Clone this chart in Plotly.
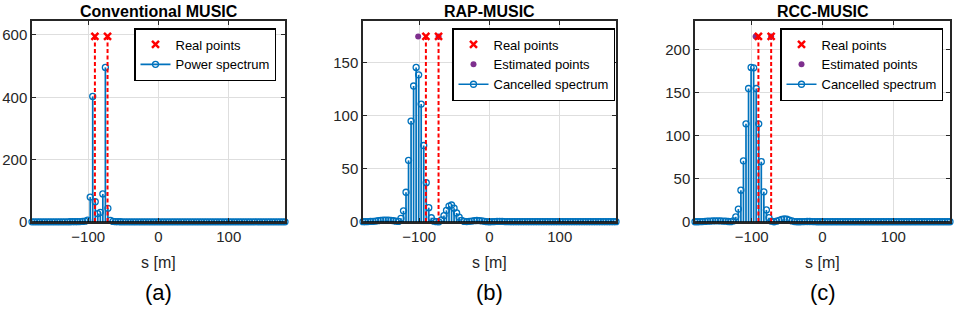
import plotly.graph_objects as go

# ---------------- data ----------------
s_grid = [-180.0, -176.4, -172.8, -169.2, -165.6, -162.0, -158.4, -154.8, -151.2, -147.6,
          -144.0, -140.4, -136.8, -133.2, -129.6, -126.0, -122.4, -118.8, -115.2, -111.6,
          -108.0, -104.4, -100.8, -97.2, -93.6, -90.0, -86.4, -82.8, -79.2, -75.6,
          -72.0, -68.4, -64.8, -61.2, -57.6, -54.0, -50.4, -46.8, -43.2, -39.6,
          -36.0, -32.4, -28.8, -25.2, -21.6, -18.0, -14.4, -10.8, -7.2, -3.6,
          0.0, 3.6, 7.2, 10.8, 14.4, 18.0, 21.6, 25.2, 28.8, 32.4,
          36.0, 39.6, 43.2, 46.8, 50.4, 54.0, 57.6, 61.2, 64.8, 68.4,
          72.0, 75.6, 79.2, 82.8, 86.4, 90.0, 93.6, 97.2, 100.8, 104.4,
          108.0, 111.6, 115.2, 118.8, 122.4, 126.0, 129.6, 133.2, 136.8, 140.4,
          144.0, 147.6, 151.2, 154.8, 158.4, 162.0, 165.6, 169.2, 172.8, 176.4,
          180.0]

spec_a = [0.5, 0.5, 0.5, 0.5, 0.5, 0.5, 0.5, 0.5, 0.5, 0.5,
          0.6, 0.6, 0.6, 0.7, 0.7, 0.8, 0.9, 1.0, 1.2, 1.5,
          1.8, 2.5, 6.0, 80.0, 403.0, 65.0, 27.0, 31.0, 90.0, 496.0,
          44.0, 5.0, 2.0, 1.2, 1.0, 0.8, 0.7, 0.6, 0.6, 0.5,
          0.5, 0.5, 0.5, 0.5, 0.5, 0.5, 0.5, 0.5, 0.5, 0.5,
          0.5, 0.5, 0.5, 0.5, 0.5, 0.5, 0.5, 0.5, 0.5, 0.5,
          0.5, 0.5, 0.5, 0.5, 0.5, 0.5, 0.5, 0.5, 0.5, 0.5,
          0.5, 0.5, 0.5, 0.5, 0.5, 0.5, 0.5, 0.5, 0.5, 0.5,
          0.5, 0.5, 0.5, 0.5, 0.5, 0.5, 0.5, 0.5, 0.5, 0.5,
          0.5, 0.5, 0.5, 0.5, 0.5, 0.5, 0.5, 0.5, 0.5, 0.5,
          0.5]

spec_b = [0.3, 0.3, 0.4, 0.5, 0.6, 0.9, 1.2, 1.5, 1.7, 1.8,
          1.7, 1.5, 1.2, 0.8, 0.5, 3.5, 10.5, 28.0, 58.0, 95.0,
          128.0, 145.5, 138.5, 111.0, 72.0, 37.0, 13.5, 4.0, 0.8, 0.3,
          0.2, 2.0, 6.0, 11.0, 15.0, 16.0, 13.0, 8.5, 4.5, 1.5,
          0.5, 0.4, 0.6, 0.9, 1.2, 1.4, 1.3, 1.0, 0.6, 0.3,
          0.2, 0.3, 0.4, 0.5, 0.5, 0.5, 0.4, 0.3, 0.3, 0.3,
          0.3, 0.3, 0.3, 0.3, 0.3, 0.3, 0.3, 0.3, 0.3, 0.3,
          0.3, 0.3, 0.3, 0.3, 0.3, 0.3, 0.3, 0.3, 0.3, 0.3,
          0.3, 0.3, 0.3, 0.3, 0.3, 0.3, 0.3, 0.3, 0.3, 0.3,
          0.3, 0.3, 0.3, 0.3, 0.3, 0.3, 0.3, 0.3, 0.3, 0.3,
          0.3]

spec_c = [0.3, 0.3, 0.4, 0.5, 0.7, 0.9, 1.1, 1.3, 1.4, 1.4,
          1.3, 1.1, 0.9, 0.6, 0.4, 1.2, 6.0, 15.0, 37.0, 71.0,
          114.0, 155.0, 179.5, 179.0, 155.0, 114.0, 70.0, 35.0, 14.0, 5.0,
          1.0, 0.3, 1.0, 2.0, 3.0, 3.5, 3.2, 2.2, 1.2, 0.5,
          0.3, 0.3, 0.4, 0.5, 0.6, 0.6, 0.5, 0.4, 0.3, 0.3,
          0.3, 0.3, 0.3, 0.3, 0.3, 0.3, 0.3, 0.3, 0.3, 0.3,
          0.3, 0.3, 0.3, 0.3, 0.3, 0.3, 0.3, 0.3, 0.3, 0.3,
          0.3, 0.3, 0.3, 0.3, 0.3, 0.3, 0.3, 0.3, 0.3, 0.3,
          0.3, 0.3, 0.3, 0.3, 0.3, 0.3, 0.3, 0.3, 0.3, 0.3,
          0.3, 0.3, 0.3, 0.3, 0.3, 0.3, 0.3, 0.3, 0.3, 0.3,
          0.3]

real_pts = [-90.5, -72.5]
est_b = [-101.5, -72.5]
est_c = [-94.4, -72.5]

titles = ["Conventional MUSIC", "RAP-MUSIC", "RCC-MUSIC"]
spec_names = ["Power spectrum", "Cancelled spectrum", "Cancelled spectrum"]
panel_tags = ["(a)", "(b)", "(c)"]
yticks_a = [0, 200, 400, 600]
yticks_b = [0, 50, 100, 150]
yticks_c = [0, 50, 100, 150, 200]
xticks = [-100, 0, 100]
x_label = "s [m]"

# ---------------- style / layout ----------------
W, H = 955, 309
FONT = "Liberation Sans, Arial, Helvetica, sans-serif"
BLUE = "#0072BD"
RED = "#FF0000"
PURPLE = "#7E2F8E"
AX = "#262626"

px_x = [(32, 285), (363, 616), (695, 950)]
px_y = (21, 222)
legend_px = [(276, 28), (615, 28), (943, 28)]

panels = [
    (spec_a, None, yticks_a),
    (spec_b, est_b, yticks_b),
    (spec_c, est_c, yticks_c),
]

fig = go.Figure()
layout = {}
shapes = []
annotations = []

for i, (spec, est, yt) in enumerate(panels):
    sfx = "" if i == 0 else str(i + 1)
    xa, ya = "x" + sfx, "y" + sfx
    lg = "legend" + sfx
    ymax = max(spec)
    top = 1.3 * ymax
    mark_h = 1.2 * ymax

    # stems
    sx, sy = [], []
    for xv, yv in zip(s_grid, spec):
        sx += [xv, xv, None]
        sy += [0, yv, None]
    fig.add_trace(go.Scatter(x=sx, y=sy, mode="lines", line=dict(color=BLUE, width=1.7),
                             xaxis=xa, yaxis=ya, showlegend=False, hoverinfo="skip"))
    fig.add_trace(go.Scatter(x=s_grid, y=spec, mode="markers",
                             marker=dict(symbol="circle-open", size=6, color=BLUE,
                                         line=dict(width=1.3, color=BLUE)),
                             xaxis=xa, yaxis=ya, showlegend=False, cliponaxis=False))
    # dashed red lines at real points
    dx, dy = [], []
    for rp in real_pts:
        dx += [rp, rp, None]
        dy += [0, mark_h, None]
    fig.add_trace(go.Scatter(x=dx, y=dy, mode="lines",
                             line=dict(color=RED, width=2, dash="4px,2.5px"),
                             xaxis=xa, yaxis=ya, showlegend=False, hoverinfo="skip"))
    # estimated points
    if est is not None:
        fig.add_trace(go.Scatter(x=est, y=[mark_h] * len(est), mode="markers",
                                 marker=dict(symbol="circle", size=6, color=PURPLE),
                                 name="Estimated points", xaxis=xa, yaxis=ya,
                                 legend=lg, legendrank=2, cliponaxis=False))
    # real points
    fig.add_trace(go.Scatter(x=real_pts, y=[mark_h] * len(real_pts), mode="markers",
                             marker=dict(symbol="x-thin", size=7, color=RED,
                                         line=dict(width=2.5, color=RED)),
                             name="Real points", xaxis=xa, yaxis=ya,
                             legend=lg, legendrank=1, cliponaxis=False))
    # legend entry for spectrum
    fig.add_trace(go.Scatter(x=[None], y=[None], mode="lines+markers",
                             line=dict(color=BLUE, width=1.7),
                             marker=dict(symbol="circle-open", size=6, color=BLUE,
                                         line=dict(width=1.3, color=BLUE)),
                             name=spec_names[i], xaxis=xa, yaxis=ya,
                             legend=lg, legendrank=3))

    x0, x1 = px_x[i]
    xdom = [x0 / W, x1 / W]
    ydom = [1 - px_y[1] / H, 1 - px_y[0] / H]
    layout["xaxis" + sfx] = dict(domain=xdom, anchor=ya, range=[-180, 180],
                                 tickvals=xticks, ticks="inside", ticklen=4,
                                 tickcolor=AX, showline=True, linecolor=AX,
                                 linewidth=1.5, mirror="all", showgrid=True,
                                 gridcolor="#dedede", gridwidth=1, zeroline=False,
                                 automargin=False,
                                 tickfont=dict(family=FONT, size=15, color=AX))
    layout["yaxis" + sfx] = dict(domain=ydom, anchor=xa, range=[0, top],
                                 tickvals=yt, ticks="inside", ticklen=4,
                                 tickcolor=AX, showline=True, linecolor=AX,
                                 linewidth=1.5, mirror="all", showgrid=True,
                                 gridcolor="#dedede", gridwidth=1, zeroline=False,
                                 automargin=False,
                                 tickfont=dict(family=FONT, size=15, color=AX))
    lx, ly = legend_px[i]
    layout[lg] = dict(x=lx / W, y=1 - ly / H, xanchor="right", yanchor="top",
                      bgcolor="white", bordercolor="#000000", borderwidth=1.5,
                      font=dict(family=FONT, size=13, color="#000000"),
                      traceorder="normal", itemwidth=30, tracegroupgap=0)

    # baseline
    shapes.append(dict(type="line", xref=xa + " domain", yref=ya, x0=0, x1=1, y0=0, y1=0,
                       line=dict(color="#000000", width=1.5), layer="above"))

    cx = (x0 + x1) / 2 / W
    annotations.append(dict(text="<b>" + titles[i] + "</b>", x=cx, y=1 - 11 / H,
                            xref="paper", yref="paper", showarrow=False,
                            xanchor="center", yanchor="middle",
                            font=dict(family=FONT, size=16, color="#000000")))
    annotations.append(dict(text=x_label, x=cx, y=1 - 262 / H,
                            xref="paper", yref="paper", showarrow=False,
                            xanchor="center", yanchor="middle",
                            font=dict(family=FONT, size=16, color=AX)))
    annotations.append(dict(text=panel_tags[i], x=cx, y=1 - 292 / H,
                            xref="paper", yref="paper", showarrow=False,
                            xanchor="center", yanchor="middle",
                            font=dict(family=FONT, size=22, color="#000000")))

fig.update_layout(width=W, height=H, margin=dict(l=0, r=0, t=0, b=0),
                  plot_bgcolor="white", paper_bgcolor="white",
                  shapes=shapes, annotations=annotations, **layout)

fig.write_html("out.html", config={"displayModeBar": False},
               post_script="document.body.style.margin='0';document.body.style.overflow='hidden';")
